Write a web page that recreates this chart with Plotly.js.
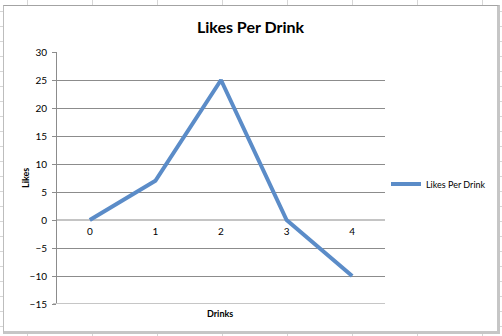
<!DOCTYPE html>
<html>
<head>
<meta charset="utf-8">
<script src="https://cdn.plot.ly/plotly-3.0.1.min.js"></script>
<style>
  html, body { margin: 0; padding: 0; width: 502px; height: 336px; overflow: hidden; }
  body {
    background-color: #ffffff;
    background-image: linear-gradient(to right, #d6d6d6 1px, transparent 1px),
                      linear-gradient(to bottom, #d6d6d6 1px, transparent 1px);
    background-size: 65px 15px;
    background-position: 27px 11px;
  }
  #frame {
    position: absolute; left: 3px; top: 5px;
    border-top: 1px solid #a3a3a3; border-left: 1px solid #bdbdbd;
    border-right: 3px solid #c6c6c6; border-bottom: 3px solid #c6c6c6;
    background: #ffffff;
  }
  #chart { width: 493px; height: 325px; }
</style>
</head>
<body>
<div id="frame"><div id="chart"></div></div>
<script>
const drinks = [0, 1, 2, 3, 4];
const likes = [0, 7, 25, 0, -10];
const yTicks = [-15, -10, -5, 0, 5, 10, 15, 20, 25, 30];

const font = "Lato, 'Liberation Sans', sans-serif";

const trace = {
  x: drinks,
  y: likes,
  type: 'scatter',
  mode: 'lines',
  name: 'Likes Per Drink',
  line: { color: '#5b8cc8', width: 4 }
};

const layout = {
  width: 493,
  height: 325,
  margin: { l: 53, r: 112, t: 46, b: 27, autoexpand: false },
  paper_bgcolor: '#ffffff',
  plot_bgcolor: '#ffffff',
  font: { family: font, size: 10, color: '#000000' },
  title: {
    text: '<b>Likes Per Drink</b>',
    font: { family: font, size: 16, color: '#000000' },
    xref: 'container', x: 0.5, xanchor: 'center',
    yref: 'container', y: 1 - 21 / 325, yanchor: 'middle'
  },
  xaxis: {
    type: 'linear',
    range: [-0.5, 4.5],
    tickvals: drinks,
    ticktext: drinks.map(String),
    showgrid: false,
    zeroline: false,
    showline: false,
    ticks: '',
    anchor: 'free',
    position: 1 / 3,
    ticklabelstandoff: 4,
    tickfont: { family: font, size: 10, color: '#000000' },
    fixedrange: true
  },
  yaxis: {
    range: [-15, 30],
    tickvals: yTicks,
    showgrid: true,
    gridcolor: '#8c8c8c',
    gridwidth: 1,
    zeroline: true,
    zerolinecolor: '#c4c4c4',
    zerolinewidth: 1.5,
    showline: true,
    linecolor: '#8c8c8c',
    linewidth: 1,
    ticks: 'outside',
    ticklen: 4,
    tickcolor: '#8c8c8c',
    ticklabelstandoff: 3,
    tickfont: { family: font, size: 10, color: '#000000' },
    fixedrange: true
  },
  shapes: [{
    type: 'line', xref: 'paper', yref: 'y',
    x0: -4 / 328, x1: 1, y0: -15, y1: -15,
    line: { color: '#c6c6c6', width: 2 }
  }],
  annotations: [
    { text: '<b>Likes</b>', textangle: -90, xref: 'paper', yref: 'paper',
      x: -32 / 328, y: 0.5, xanchor: 'center', yanchor: 'middle', showarrow: false,
      font: { family: font, size: 9, color: '#000000' } },
    { text: '<b>Drinks</b>', xref: 'paper', yref: 'paper',
      x: (216 - 53) / 328, y: -9 / 252, xanchor: 'center', yanchor: 'middle', showarrow: false,
      font: { family: font, size: 9, color: '#000000' } }
  ],
  showlegend: true,
  legend: {
    xref: 'container', x: 382 / 493, xanchor: 'left',
    yref: 'container', y: 1 - 178 / 325, yanchor: 'middle',
    bgcolor: 'rgba(0,0,0,0)',
    font: { family: font, size: 9, color: '#000000' },
    itemwidth: 30
  }
};

Plotly.newPlot('chart', [trace], layout, { displayModeBar: false, staticPlot: true });
</script>
</body>
</html>
